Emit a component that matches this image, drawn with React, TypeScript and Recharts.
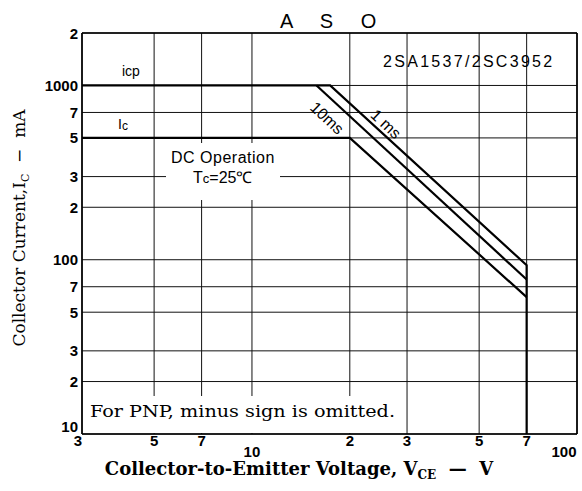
import React from "react";
import { ComposedChart, Line, XAxis, YAxis, CartesianGrid, ReferenceLine } from "recharts";

// ---- data ----
const xTicks = [3, 5, 7, 10, 20, 30, 50, 70, 100];
const xTickLabels = ["3", "5", "7", "10", "2", "3", "5", "7", "100"];
const yTicks = [10, 20, 30, 50, 70, 100, 200, 300, 500, 700, 1000, 2000];
const yTickLabels = ["10", "2", "3", "5", "7", "100", "2", "3", "5", "7", "1000", "2"];

// 1 ms pulse (incl. Icp limit and Vceo limit)
const pulse1msV = [3, 17.4, 70, 70];
const pulse1msI = [1000, 1000, 93, 10];
// 10 ms pulse
const pulse10msV = [15.8, 70];
const pulse10msI = [1000, 77];
// DC operation
const dcV = [3, 20, 70];
const dcI = [500, 500, 61];

const zip = (v: number[], i: number[]) => v.map((x, k) => ({ v: x, i: i[k] }));
const data1ms = zip(pulse1msV, pulse1msI);
const data10ms = zip(pulse10msV, pulse10msI);
const dataDC = zip(dcV, dcI);

const SANS = "'Liberation Sans', Arial, sans-serif";
const SERIF = "'DejaVu Serif', serif";

const XTick = (props: any) => {
  const { x, y, payload } = props;
  const idx = xTicks.indexOf(payload.value);
  const val = payload.value;
  const decade = val === 10 || val === 100;
  const dx = val === 100 ? -13 : val === 3 ? -4 : 0;
  return (
    <text
      x={x + dx}
      y={y + (decade ? 17 : 6)}
      textAnchor="middle"
      dominantBaseline="central"
      fontFamily={SANS}
      fontWeight="bold"
      fontSize={15}
      fill="#000"
    >
      {xTickLabels[idx]}
    </text>
  );
};

const YTick = (props: any) => {
  const { x, y, payload } = props;
  const idx = yTicks.indexOf(payload.value);
  const val = payload.value;
  const dy = val === 10 ? -8 : 0;
  return (
    <text
      x={x - 4}
      y={y + dy}
      textAnchor="end"
      dominantBaseline="central"
      fontFamily={SANS}
      fontWeight="bold"
      fontSize={15}
      fill="#000"
    >
      {yTickLabels[idx]}
    </text>
  );
};

export default function App() {
  return (
    <div style={{ position: "absolute", left: 0, top: 0, width: 582, height: 491, background: "#fff" }}>
      <ComposedChart width={582} height={491} margin={{ top: 33, right: 5, bottom: 0, left: 0 }}>
        <CartesianGrid stroke="#111" strokeWidth={1} />
        <XAxis
          dataKey="v"
          type="number"
          scale="log"
          domain={[3, 100]}
          ticks={xTicks}
          allowDataOverflow
          height={57}
          tickSize={0}
          tickMargin={0}
          tickLine={false}
          axisLine={{ stroke: "#000", strokeWidth: 1.6 }}
          tick={<XTick />}
          interval={0}
        />
        <YAxis
          dataKey="i"
          type="number"
          scale="log"
          domain={[10, 2000]}
          ticks={yTicks}
          allowDataOverflow
          width={82}
          tickSize={0}
          tickMargin={0}
          tickLine={false}
          axisLine={{ stroke: "#000", strokeWidth: 1.6 }}
          tick={<YTick />}
          interval={0}
        />
        <ReferenceLine x={100} stroke="#000" strokeWidth={1.6} />
        <ReferenceLine y={2000} stroke="#000" strokeWidth={1.6} />
        <Line data={data1ms} dataKey="i" type="linear" dot={false} stroke="#000" strokeWidth={2.2} isAnimationActive={false} />
        <Line data={data10ms} dataKey="i" type="linear" dot={false} stroke="#000" strokeWidth={2.2} isAnimationActive={false} />
        <Line data={dataDC} dataKey="i" type="linear" dot={false} stroke="#000" strokeWidth={2.2} isAnimationActive={false} />
      </ComposedChart>
      <svg width={582} height={491} style={{ position: "absolute", left: 0, top: 0, pointerEvents: "none" }}>
        {/* white boxes interrupting the grid */}
        <rect x={166} y={143} width={114} height={57} fill="#fff" />
        <rect x={84} y={396} width={320} height={37} fill="#fff" />
        {/* title */}
        <text x={280} y={28} fontFamily={SANS} fontSize={20} letterSpacing={11} fill="#000">A S O</text>
        <text x={383} y={67} fontFamily={SANS} fontSize={16} letterSpacing={2.3} fill="#000">2SA1537/2SC3952</text>
        <text x={122} y={76} fontFamily={SANS} fontSize={14} fill="#000">icp</text>
        <text x={118} y={129} fontFamily={SANS} fontSize={14} fill="#000">
          I<tspan fontSize={12} dy={1}>c</tspan>
        </text>
        <text x={171} y={163} fontFamily={SANS} fontSize={16} letterSpacing={0.5} fill="#000">DC Operation</text>
        <text x={193} y={183} fontFamily={SANS} fontSize={16} fill="#000">
          T<tspan fontSize={13}>c</tspan>=25℃
        </text>
        <text
          x={327}
          y={118}
          textAnchor="middle"
          dominantBaseline="central"
          fontFamily={SANS}
          fontSize={16}
          transform="rotate(43 327 118)"
          fill="#000"
        >
          10ms
        </text>
        <text
          x={386}
          y={124}
          textAnchor="middle"
          dominantBaseline="central"
          fontFamily={SANS}
          fontSize={16}
          transform="rotate(43 386 124)"
          fill="#000"
        >
          1 ms
        </text>
        <text x={90} y={417} fontFamily={SERIF} fontSize={16} textLength={305} lengthAdjust="spacingAndGlyphs" fill="#000">
          For PNP, minus sign is omitted.
        </text>
        {/* axis titles */}
        <g transform="translate(25 228) rotate(-90)">
          <text x={0} y={0} textAnchor="middle" fontFamily={SERIF} fontSize={17} fill="#000" style={{ whiteSpace: "pre" }}>
            Collector Current,I<tspan fontSize={11} dy={4}>C</tspan><tspan dy={-4}>{"  −  mA"}</tspan>
          </text>
        </g>
        <text x={299} y={475} textAnchor="middle" fontFamily={SERIF} fontWeight="bold" fontSize={18} fill="#000" style={{ whiteSpace: "pre" }}>
          Collector-to-Emitter Voltage, V<tspan fontSize={12} dy={4}>CE</tspan><tspan dy={-4}>{"  —  V"}</tspan>
        </text>
      </svg>
    </div>
  );
}
